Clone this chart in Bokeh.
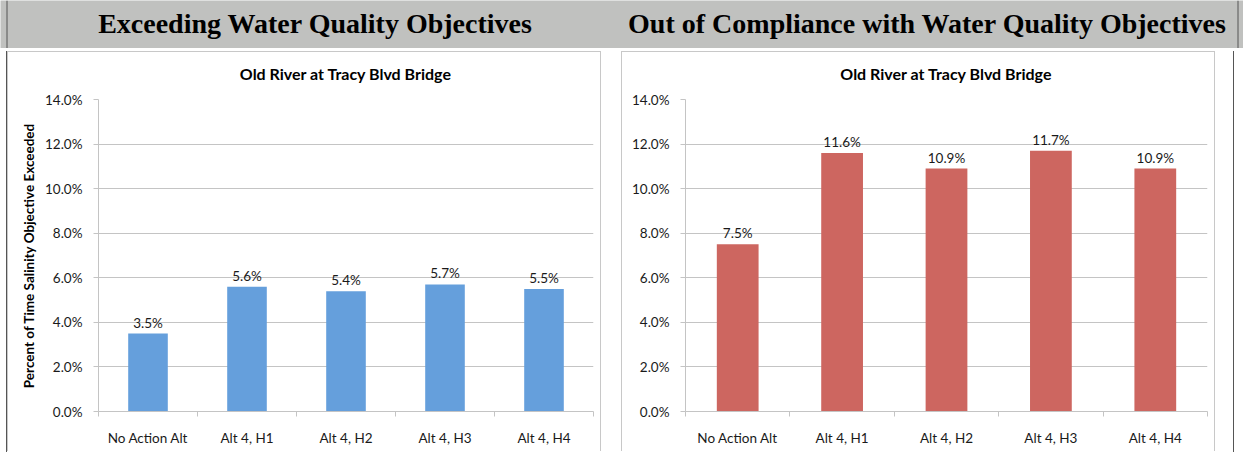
from bokeh.plotting import figure
from bokeh.layouts import column, row
from bokeh.models import (Range1d, FixedTicker, NumeralTickFormatter, ColumnDataSource,
                          Label, Spacer, LabelSet, Span)
from bokeh.embed import file_html
from bokeh.resources import INLINE
from bokeh.core.properties import value

# ---------------- data ----------------
categories = ["No Action Alt", "Alt 4, H1", "Alt 4, H2", "Alt 4, H3", "Alt 4, H4"]
exceeding_pct = [3.5, 5.6, 5.4, 5.7, 5.5]
noncompliance_pct = [7.5, 11.6, 10.9, 11.7, 10.9]
y_ticks_pct = [0, 2, 4, 6, 8, 10, 12, 14]
header_titles = ["Exceeding Water Quality Objectives",
                 "Out of Compliance with Water Quality Objectives"]
chart_title = "Old River at Tracy Blvd Bridge"
y_axis_title = "Percent of Time Salinity Objective Exceeded"

# ---------------- style ----------------
BLUE = "#659FDC"
RED = "#CD6660"
GRID = "#C4C4C4"
BOX = "#C8C8C8"
HEADER = "#C0C1BF"
DARK = "#555555"
FONT = "Lato"
TXT = "#1a1a1a"

W = 1243
HEADER_H = 48
BOX_W = 594
TITLE_H = 38
CHART_H = 362
FRAME_H = 312
SIDE = {"border-left": f"1px solid {BOX}", "border-right": f"1px solid {BOX}"}


def make_title():
    t = figure(width=BOX_W, height=TITLE_H, x_range=Range1d(0, BOX_W), y_range=Range1d(0, TITLE_H),
               output_backend="svg", toolbar_location=None, min_border=0)
    t.axis.visible = False
    t.grid.grid_line_color = None
    t.outline_line_color = None
    t.background_fill_color = "white"
    t.border_fill_color = "white"
    t.add_layout(Label(x=BOX_W / 2, y=17, text=chart_title, text_align="center",
                       text_baseline="middle", text_font=FONT, text_font_size="16px",
                       text_font_style="bold", text_color="#000000"))
    t.styles = dict(SIDE, **{"border-top": f"1px solid {BOX}"})
    return t


def make_chart(vals, color, left, right, ylabel=None):
    n = len(categories)
    xs = [i + 0.5 for i in range(n)]
    src = ColumnDataSource(dict(x=xs, top=[v / 100 for v in vals],
                                label=[f"{v:.1f}%" for v in vals]))
    p = figure(width=BOX_W, height=CHART_H, x_range=Range1d(0, n), y_range=Range1d(0, 0.14),
               output_backend="svg", toolbar_location=None,
               min_border_left=left, min_border_right=right,
               min_border_top=10, min_border_bottom=CHART_H - 10 - FRAME_H)
    p.vbar(x="x", top="top", bottom=0, width=0.4, source=src,
           fill_color=color, line_color=None)
    p.add_layout(LabelSet(x="x", y="top", text="label", source=src, y_offset=3,
                          text_align="center", text_baseline="bottom",
                          text_font=value(FONT), text_font_size="13.5px", text_color=TXT))

    # x axis: labels at category centres, tick marks at category boundaries
    xa = p.xaxis[0]
    xa.ticker = FixedTicker(ticks=xs, minor_ticks=list(range(n + 1)))
    xa.major_label_overrides = {x: c for x, c in zip(xs, categories)}
    xa.major_tick_line_color = None
    xa.minor_tick_in = 0
    xa.minor_tick_out = 5
    xa.minor_tick_line_color = GRID
    xa.axis_line_color = GRID
    xa.major_label_text_font = FONT
    xa.major_label_text_font_size = "13.5px"
    xa.major_label_text_color = TXT
    xa.major_label_standoff = 12

    ya = p.yaxis[0]
    ya.ticker = FixedTicker(ticks=[t / 100 for t in y_ticks_pct], minor_ticks=[])
    ya.formatter = NumeralTickFormatter(format="0.0%")
    ya.major_tick_in = 0
    ya.major_tick_out = 5
    ya.major_tick_line_color = GRID
    ya.axis_line_color = GRID
    ya.major_label_text_font = FONT
    ya.major_label_text_font_size = "13.5px"
    ya.major_label_text_color = TXT
    ya.major_label_standoff = 11
    if ylabel:
        ya.axis_label = ylabel
        ya.axis_label_text_font = FONT
        ya.axis_label_text_font_size = "13.5px"
        ya.axis_label_text_font_style = "bold"
        ya.axis_label_text_color = "#000000"
        ya.axis_label_standoff = 5

    p.ygrid.ticker = FixedTicker(ticks=[t / 100 for t in y_ticks_pct])
    p.ygrid.grid_line_color = GRID
    p.xgrid.grid_line_color = None
    p.outline_line_color = None
    p.background_fill_color = "white"
    p.border_fill_color = "white"
    p.styles = dict(SIDE)
    return p


left = column(make_title(), make_chart(exceeding_pct, BLUE, 90, 9, y_axis_title))
right = column(make_title(), make_chart(noncompliance_pct, RED, 63, 9))

header = figure(width=W, height=HEADER_H, x_range=Range1d(0, W), y_range=Range1d(0, HEADER_H),
                output_backend="svg", toolbar_location=None, min_border=0)
header.axis.visible = False
header.grid.grid_line_color = None
header.outline_line_color = None
header.background_fill_color = HEADER
header.border_fill_color = HEADER
for loc in (6.5, 1237.5):
    header.add_layout(Span(location=loc, dimension="height", line_color=DARK, line_width=1))
for xc, t in zip([315, 927], header_titles):
    header.add_layout(Label(x=xc, y=25, text=t, text_align="center", text_baseline="middle",
                            text_font="Liberation Serif", text_font_size="28px",
                            text_font_style="bold", text_color="#000000"))


def vline():
    return Spacer(width=1, height=TITLE_H + CHART_H + 1, styles={"background-color": DARK})


layout = column(
    header,
    Spacer(height=3),
    row(Spacer(width=6), vline(), left, Spacer(width=20), right, Spacer(width=18), vline()),
)

open("out.html", "w").write(file_html(layout, INLINE))
